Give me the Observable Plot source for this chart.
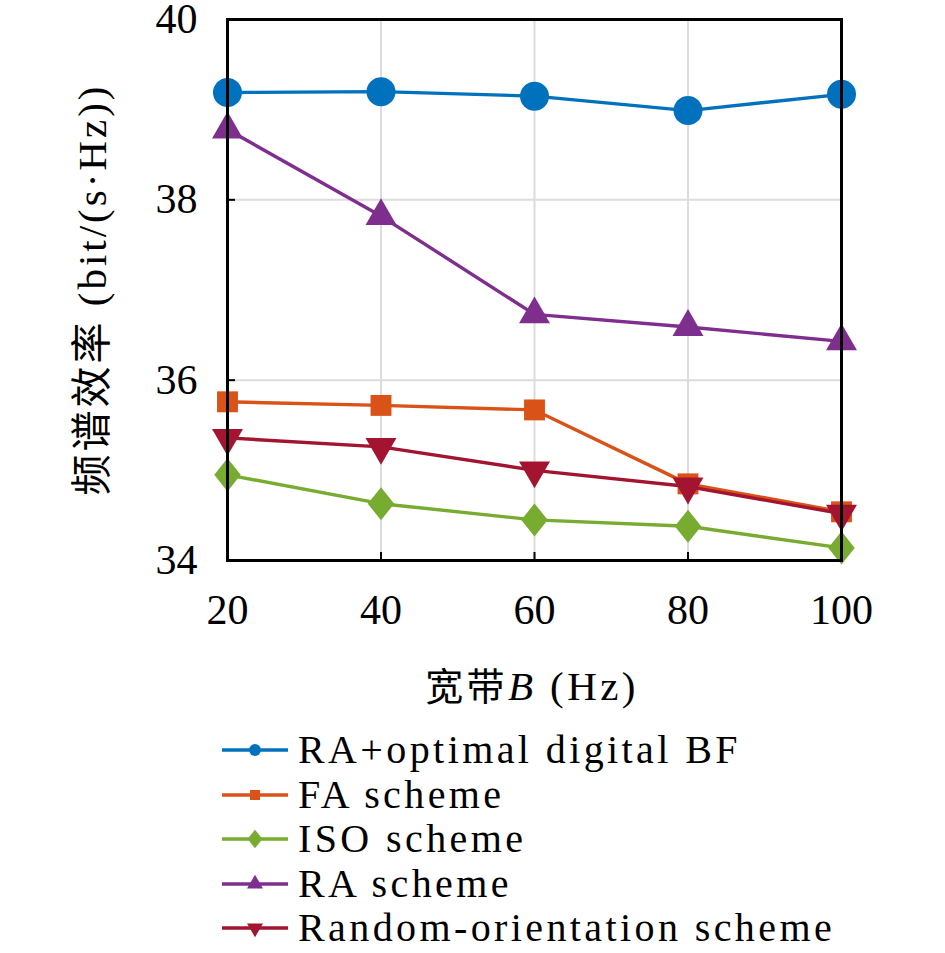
<!DOCTYPE html>
<html><head><meta charset="utf-8">
<script src="https://cdn.jsdelivr.net/npm/d3@7"></script>
<script src="https://cdn.jsdelivr.net/npm/@observablehq/plot@0.6"></script>
<style>
body{margin:0;background:#fff;}
#legend{font-family:"Liberation Serif","Noto Sans CJK SC",serif;font-size:40px;letter-spacing:3.4px;color:#000;padding-top:8px;padding-left:220px;}
.row{display:flex;align-items:center;height:44.5px;white-space:nowrap;line-height:44px;}
.row svg{margin-right:8px;flex:none;}
</style></head><body>
<div id="chart"></div>
<div id="legend"></div>
<script>
const bandwidth = [20, 40, 60, 80, 100];
const seriesNames = ["RA+optimal digital BF", "FA scheme", "ISO scheme", "RA scheme", "Random-orientation scheme"];
const raOptimal = [39.19, 39.20, 39.15, 38.99, 39.17];
const faScheme = [35.76, 35.72, 35.67, 34.85, 34.54];
const isoScheme = [34.95, 34.63, 34.45, 34.38, 34.14];
const raScheme = [38.78, 37.82, 36.73, 36.59, 36.43];
const randomScheme = [35.36, 35.26, 35.00, 34.82, 34.52];
const colors = ["#0072BD", "#D95319", "#77AC30", "#7E2F8E", "#A2142F"];
const xTicks = [20, 40, 60, 80, 100];
const yTicks = [34, 36, 38, 40];
const xLabelMain = "宽带";
const xLabelVar = "B";
const xLabelUnit = " (Hz)";
const yLabel = "频谱效率 (bit/(s·Hz))";

const seriesValues = [raOptimal, faScheme, isoScheme, raScheme, randomScheme];
const rows = seriesValues.flatMap((vals, i) => vals.map((v, j) => ({x: bandwidth[j], y: v, s: seriesNames[i]})));

const wideDiamond = {draw(ctx, size) {
  const h = Math.sqrt(size / 0.4), w = 0.8 * h;
  ctx.moveTo(0, -h / 2); ctx.lineTo(w / 2, 0); ctx.lineTo(0, h / 2); ctx.lineTo(-w / 2, 0); ctx.closePath();
}};
const symbols = ["circle", "square", wideDiamond, "triangle", "triangle"];
const radii = [14.5, 11.8, 11.8, 11.5, 11.5];
const rotates = [0, 0, 0, 0, 180];

const W = 945, H = 720, mT = 19, mB = 160, mL = 227, mR = 104;
const innerH = H - mT - mB;
const serif = "'Liberation Serif','Noto Sans CJK SC',serif";

const seriesMarks = seriesNames.flatMap((name, i) => {
  const d = rows.filter(r => r.s === name);
  return [
    Plot.line(d, {x: "x", y: "y", stroke: colors[i], strokeWidth: 3.4}),
    Plot.dot(d, {x: "x", y: "y", fill: colors[i], stroke: "none", symbol: symbols[i], r: radii[i], rotate: rotates[i]})
  ];
});

const chart = Plot.plot({
  width: W, height: H,
  marginTop: mT, marginBottom: mB, marginLeft: mL, marginRight: mR,
  style: {fontFamily: serif, fontSize: "42px", background: "white", color: "black", overflow: "visible"},
  x: {domain: [20, 100]},
  y: {domain: [34, 40]},
  marks: [
    Plot.gridX(xTicks.slice(1, -1), {stroke: "#dcdcdc", strokeOpacity: 1, strokeWidth: 2}),
    Plot.gridY(yTicks.slice(1, -1), {stroke: "#dcdcdc", strokeOpacity: 1, strokeWidth: 2}),
    Plot.tickX(xTicks.slice(1, -1), {x: d => d, insetTop: innerH - 8, stroke: "black", strokeWidth: 2}),
    Plot.tickY(yTicks.slice(1, -1), {y: d => d, insetRight: (W - mL - mR) - 8, stroke: "black", strokeWidth: 2}),
    Plot.axisX(xTicks, {tickSize: 0, tickPadding: 34, label: null, fontSize: 42, tickFormat: d3.format("d")}),
    Plot.axisY(yTicks, {tickSize: 0, tickPadding: 30, label: null, fontSize: 42, tickFormat: d3.format("d")}),
    ...seriesMarks,
    Plot.frame({stroke: "black", strokeWidth: 3})
  ]
});

const svg = d3.select(chart);
const xl = svg.append("text")
  .attr("x", (mL + W - mR) / 2 - 2).attr("y", 700)
  .attr("text-anchor", "middle")
  .style("font-family", serif).style("font-size", "41px").style("letter-spacing", "3.4px").attr("fill", "black");
xl.append("tspan").style("font-family", "'Noto Sans CJK SC',sans-serif").style("font-size", "38px").text(xLabelMain);
xl.append("tspan").style("font-style", "italic").text(xLabelVar);
xl.append("tspan").text(xLabelUnit);

svg.append("text")
  .attr("transform", `translate(97,${mT + innerH / 2}) rotate(-90)`)
  .attr("text-anchor", "middle").attr("dominant-baseline", "middle")
  .style("font-family", serif).style("font-size", "41px").style("letter-spacing", "3px").attr("fill", "black")
  .text(yLabel);

document.getElementById("chart").appendChild(chart);

// legend
const legend = d3.select("#legend");
const legendSymbols = [d3.symbolCircle, d3.symbolSquare, wideDiamond, d3.symbolTriangle, d3.symbolTriangle];
const legendSizes = [110, 100, 140, 110, 110];
seriesNames.forEach((name, i) => {
  const row = legend.append("div").attr("class", "row");
  const s = row.append("svg").attr("width", 70).attr("height", 40);
  s.append("line").attr("x1", 2).attr("x2", 68).attr("y1", 20).attr("y2", 20).attr("stroke", colors[i]).attr("stroke-width", 3.4);
  s.append("path").attr("d", d3.symbol(legendSymbols[i], legendSizes[i])())
    .attr("transform", `translate(35,20) rotate(${rotates[i]})`).attr("fill", colors[i]);
  row.append("span").text(name);
});
</script>
</body></html>
